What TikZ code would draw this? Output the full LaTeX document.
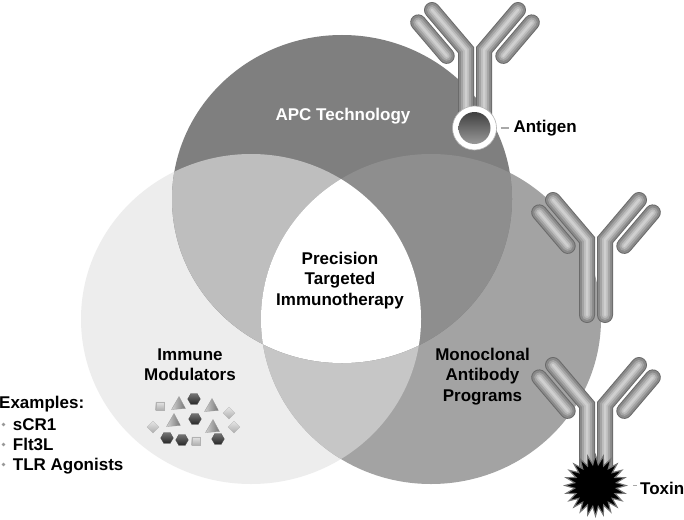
\documentclass[tikz,border=0pt]{standalone}
\usepackage{fontspec}
\setmainfont{Liberation Sans}
\usetikzlibrary{shapes.geometric}
\definecolor{cT}{HTML}{7F7F7F}
\definecolor{cTL}{HTML}{BEBEBE}
\definecolor{cTR}{HTML}{8E8E8E}
\definecolor{cL}{HTML}{EDEDED}
\definecolor{cR}{HTML}{A3A3A3}
\definecolor{cLR}{HTML}{C6C6C6}
\definecolor{tA}{HTML}{6A6A6A}
\definecolor{tB}{HTML}{8A8A8A}
\definecolor{tC}{HTML}{A4A4A4}
\definecolor{tD}{HTML}{BDBDBD}
\definecolor{tE}{HTML}{CFCFCF}
\definecolor{lineg}{HTML}{A8A8A8}
\tikzset{
  tubeA/.style={line width=16pt, line join=miter, line cap=round, draw=tA},
  tubeB/.style={line width=14pt, line join=miter, line cap=round, draw=tB},
  tubeC/.style={line width=10pt, line join=miter, line cap=round, draw=tC},
  tubeD/.style={line width=6pt, line join=miter, line cap=round, draw=tD},
  tubeE/.style={line width=2.5pt, line join=miter, line cap=round, draw=tE},
  lbl/.style={inner sep=0pt, anchor=base, font=\fontsize{17}{20}\selectfont\bfseries},
  lblw/.style={lbl, anchor=base west},
  hexa/.style={top color=black!55, bottom color=black!85, draw=black!70, line width=0.3pt},
  pyra/.style={left color=black!18, right color=black!55, draw=black!40, line width=0.3pt},
  cubeb/.style={top color=black!10, bottom color=black!32, draw=black!30, line width=0.3pt},
  conn/.style={draw=lineg, line width=1.4pt},
}
\newcommand\tube[1]{%
  \draw[tubeA] #1; \draw[tubeB] #1; \draw[tubeC] #1; \draw[tubeD] #1; \draw[tubeE] #1;}
\newcommand\abody[3]{%
  \begin{scope}[shift={(#1,#2)}]
    \tube{(-9,#3) -- (-9,0) -- (-43,-40)}
    \tube{(9,#3) -- (9,0) -- (43,-40)}
    \tube{(-56.8,-27.6) -- (-28.3,5.9)}
    \tube{(56.8,-27.6) -- (28.3,5.9)}
  \end{scope}}
\newcommand\hexmol[2]{\path[hexa] (#1,#2) +(0:6.3) -- +(60:6.3) -- +(120:6.3) -- +(180:6.3) -- +(240:6.3) -- +(300:6.3) -- cycle;}
\newcommand\pyrmol[2]{\path[pyra] (#1,#2) +(-6.5,5.5) -- +(1,-7.5) -- +(7.5,4.5) -- cycle;}
\newcommand\cubmol[2]{\path[cubeb] (#1,#2) +(-4.3,-4.3) -- +(4.3,-4.3) -- +(4.3,4.3) -- +(-4.3,4.3) -- cycle;}
\newcommand\diamol[2]{\path[cubeb] (#1,#2) +(0,-6) -- +(6,0) -- +(0,6) -- +(-6,0) -- cycle;}
\begin{document}
\begin{tikzpicture}[x=1pt,y=-1pt]
\useasboundingbox[fill=white] (0,0) rectangle (684,519);
% Venn regions
\fill[cL] (251,319) ellipse [x radius=170pt, y radius=165pt];
\fill[cR] (431,319) ellipse [x radius=170pt, y radius=165pt];
\begin{scope}
  \clip (431,319) ellipse [x radius=170pt, y radius=165pt];
  \fill[cLR] (251,319) ellipse [x radius=170pt, y radius=165pt];
\end{scope}
\fill[cT] (342,199) ellipse [x radius=170pt, y radius=164pt];
\begin{scope}
  \clip (251,319) ellipse [x radius=170pt, y radius=165pt];
  \fill[cTL] (342,199) ellipse [x radius=170pt, y radius=164pt];
\end{scope}
\begin{scope}
  \clip (431,319) ellipse [x radius=170pt, y radius=165pt];
  \fill[cTR] (342,199) ellipse [x radius=170pt, y radius=164pt];
  \clip (251,319) ellipse [x radius=170pt, y radius=165pt];
  \fill[white] (342,199) ellipse [x radius=170pt, y radius=164pt];
\end{scope}
% antibodies
\abody{475}{50}{65}
\abody{596}{240}{75}
\abody{596}{405}{62}
% antigen
\node[circle, fill=white, draw=black!30, line width=0.6pt, minimum size=44pt, inner sep=0pt] (ring) at (474.5,128) {};
\node[circle, top color=black!75, bottom color=black!40, minimum size=32pt, inner sep=0pt] (antigen) at (ring.center) {};
\node[lblw] (antigenlbl) at (513.3,132.7) {Antigen};
\draw[conn] ([xshift=4pt]ring.east) -- ([xshift=-4.3pt]antigenlbl.west |- ring.east);
% toxin
\node[star, star points=24, star point ratio=1.45, minimum size=61pt, inner sep=0pt, fill=black, draw=black!55, line width=1.1pt] (toxin) at (595.5,485.5) {};
\node[lblw] (toxinlbl) at (640,494) {Toxin};
\draw[conn] ([xshift=5pt]toxin.east) -- ([xshift=-3.5pt]toxinlbl.west |- toxin.east);
% circle labels
\node[lbl, text=white] (apc) at (343,120) {APC Technology};
\node[lbl] (ptia) at (340,264.5) {Precision};
\node[lbl] (ptib) at (340,284.7) {Targeted};
\node[lbl] (ptic) at (340,305) {Immunotherapy};
\node[lbl] (ima) at (190,360) {Immune};
\node[lbl] (imb) at (190,380.5) {Modulators};
\node[lbl] (mca) at (482.5,360) {Monoclonal};
\node[lbl] (mcb) at (482.5,380.5) {Antibody};
\node[lbl] (mcc) at (482.5,401) {Programs};
% examples
\node[lblw] (exa) at (-1,408.3) {Examples:};
\node[lblw] (exb) at (12.7,430) {sCR1};
\node[lblw] (exc) at (12.7,450) {Flt3L};
\node[lblw] (exd) at (12.7,470) {TLR Agonists};
\fill[black!40] (3.5,424.5) circle [radius=1.8pt];
\fill[black!40] (3.5,444.5) circle [radius=1.8pt];
\fill[black!40] (3.5,464.5) circle [radius=1.8pt];
% molecules
\cubmol{160}{406}
\pyrmol{178}{404}
\hexmol{194}{399}
\pyrmol{211}{406}
\diamol{229}{413}
\diamol{153}{427}
\pyrmol{173}{421}
\hexmol{195}{419}
\pyrmol{212}{427}
\diamol{234}{427}
\hexmol{167}{438}
\hexmol{182}{440}
\cubmol{196}{441}
\hexmol{218}{439}
\end{tikzpicture}
\end{document}
